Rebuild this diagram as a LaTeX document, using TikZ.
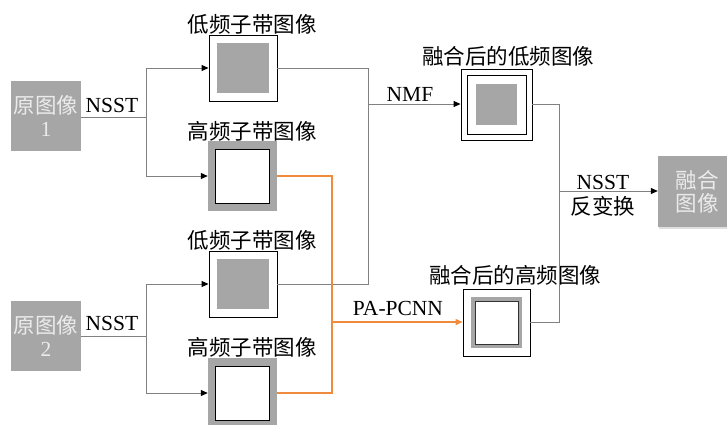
\documentclass[tikz,border=0pt]{standalone}
\usepackage{fontspec}
\setmainfont{Liberation Serif}
\newfontfamily\cjk{Noto Sans CJK SC}
\usetikzlibrary{arrows.meta,shadows}
\definecolor{boxgray}{HTML}{A6A6A6}
\definecolor{linegray}{HTML}{808080}
\definecolor{pcnn}{HTML}{F08A3C}
\begin{document}
\begin{tikzpicture}[x=1pt,y=-1pt,
  every node/.style={inner sep=0pt},
  bigfont/.style={font=\fontsize{21.5}{23}\selectfont},
  src/.style={bigfont, fill=boxgray, minimum width=70pt, minimum height=70pt,
    text=white!92!black, align=center},
  outbox/.style={src, minimum width=78pt, minimum height=71pt,
    drop shadow={opacity=0.25, shadow xshift=1pt, shadow yshift=-2pt}},
  lowbox/.style={draw=black, line width=0.9pt, fill=white, minimum width=68pt, minimum height=66pt,
    path picture={\fill[boxgray] ([xshift=7.5pt,yshift=-7.5pt]path picture bounding box.north west)
      rectangle ([xshift=-8.5pt,yshift=8.5pt]path picture bounding box.south east);}},
  highbox/.style={fill=boxgray, minimum width=69pt, minimum height=70pt,
    path picture={\draw[black, line width=0.9pt, fill=white] ([xshift=7.5pt,yshift=-8pt]path picture bounding box.north west)
      rectangle ([xshift=-7.5pt,yshift=8pt]path picture bounding box.south east);}},
  fusedlow/.style={draw=black, line width=0.9pt, fill=white, minimum width=71pt, minimum height=71pt,
    path picture={\draw[black, line width=0.9pt] ([xshift=6pt,yshift=-6pt]path picture bounding box.north west)
      rectangle ([xshift=-6pt,yshift=6pt]path picture bounding box.south east);
      \fill[boxgray] ([xshift=15pt,yshift=-15pt]path picture bounding box.north west)
      rectangle ([xshift=-15pt,yshift=15pt]path picture bounding box.south east);}},
  fusedhigh/.style={draw=black, line width=0.9pt, fill=white, minimum width=67pt, minimum height=67pt,
    path picture={\fill[boxgray] ([xshift=8pt,yshift=-8pt]path picture bounding box.north west)
      rectangle ([xshift=-8pt,yshift=8pt]path picture bounding box.south east);
      \draw[black!80, line width=0.9pt, fill=white] ([xshift=12pt,yshift=-12pt]path picture bounding box.north west)
      rectangle ([xshift=-12pt,yshift=12pt]path picture bounding box.south east);}},
  cjklab/.style={font=\cjk\fontsize{21.5}{23}\selectfont},
  latlab/.style={bigfont, anchor=base},
  conn/.style={draw=linegray, line width=1pt},
  arr/.style={conn, -{Triangle[black,length=7pt,width=6pt]}},
  oconn/.style={draw=pcnn, line width=1.2pt},
  oarr/.style={oconn, -{Triangle[pcnn,length=7pt,width=6pt]}}
]
\useasboundingbox (0,0) rectangle (727,424);

% sources
\node[src] (src1) at (46,116) {{\cjk 原图像}\\1};
\node[src] (src2) at (46,335.5) {{\cjk 原图像}\\2};

% subbands
\node[lowbox] (low1) at (243,68) {};
\node[highbox] (high1) at (242.5,176) {};
\node[lowbox] (low2) at (243,284) {};
\node[highbox] (high2) at (242.5,393) {};

\node[cjklab] (tl1) at (252,24) {低频子带图像};
\node[cjklab] (th1) at (252,131) {高频子带图像};
\node[cjklab] (tl2) at (252,240) {低频子带图像};
\node[cjklab] (th2) at (252,347) {高频子带图像};

% fused
\node[fusedlow] (flow) at (496.5,104.5) {};
\node[fusedhigh] (fhigh) at (496.5,322.5) {};
\node[cjklab] (tfl) at (508,56) {融合后的低频图像};
\node[cjklab] (tfh) at (515,275) {融合后的高频图像};

% output
\node[outbox] (out) at (697,191.5) {{\cjk 融合}\\{\cjk 图像}};

% junctions
\coordinate (j1) at (146,117);
\coordinate (j2) at (146,336);
\coordinate (m1) at (368,104);
\coordinate (o1) at (332,322);
\coordinate (r1) at (559,191);

% connectors
\draw[conn] (src1.east |- j1) -- (j1);
\draw[arr] (j1) |- (low1.west);
\draw[arr] (j1) |- (high1.west);
\draw[conn] (src2.east |- j2) -- (j2);
\draw[arr] (j2) |- (low2.west);
\draw[arr] (j2) |- (high2.west);

\draw[conn] (low1.east) -| (m1);
\draw[conn] (low2.east) -| (m1);
\draw[arr] (m1) -- (flow.west |- m1);

\draw[oconn] (high1.east) -| (o1);
\draw[oconn] (high2.east) -| (o1);
\draw[oarr] (o1) -- (fhigh.west |- o1);

\draw[conn] (flow.east) -| (r1);
\draw[conn] (fhigh.east) -| (r1);
\draw[arr] (r1) -- (out.west |- r1);

% connector labels
\node[latlab] (l1) at (112,112) {NSST};
\node[latlab] (l2) at (112,330) {NSST};
\node[latlab] (l3) at (410,101) {NMF};
\node[latlab] (l4) at (398,315) {PA-PCNN};
\node[latlab] (l5) at (603,189) {NSST};
\node[cjklab] (l6) at (603,206) {反变换};
\end{tikzpicture}
\end{document}
